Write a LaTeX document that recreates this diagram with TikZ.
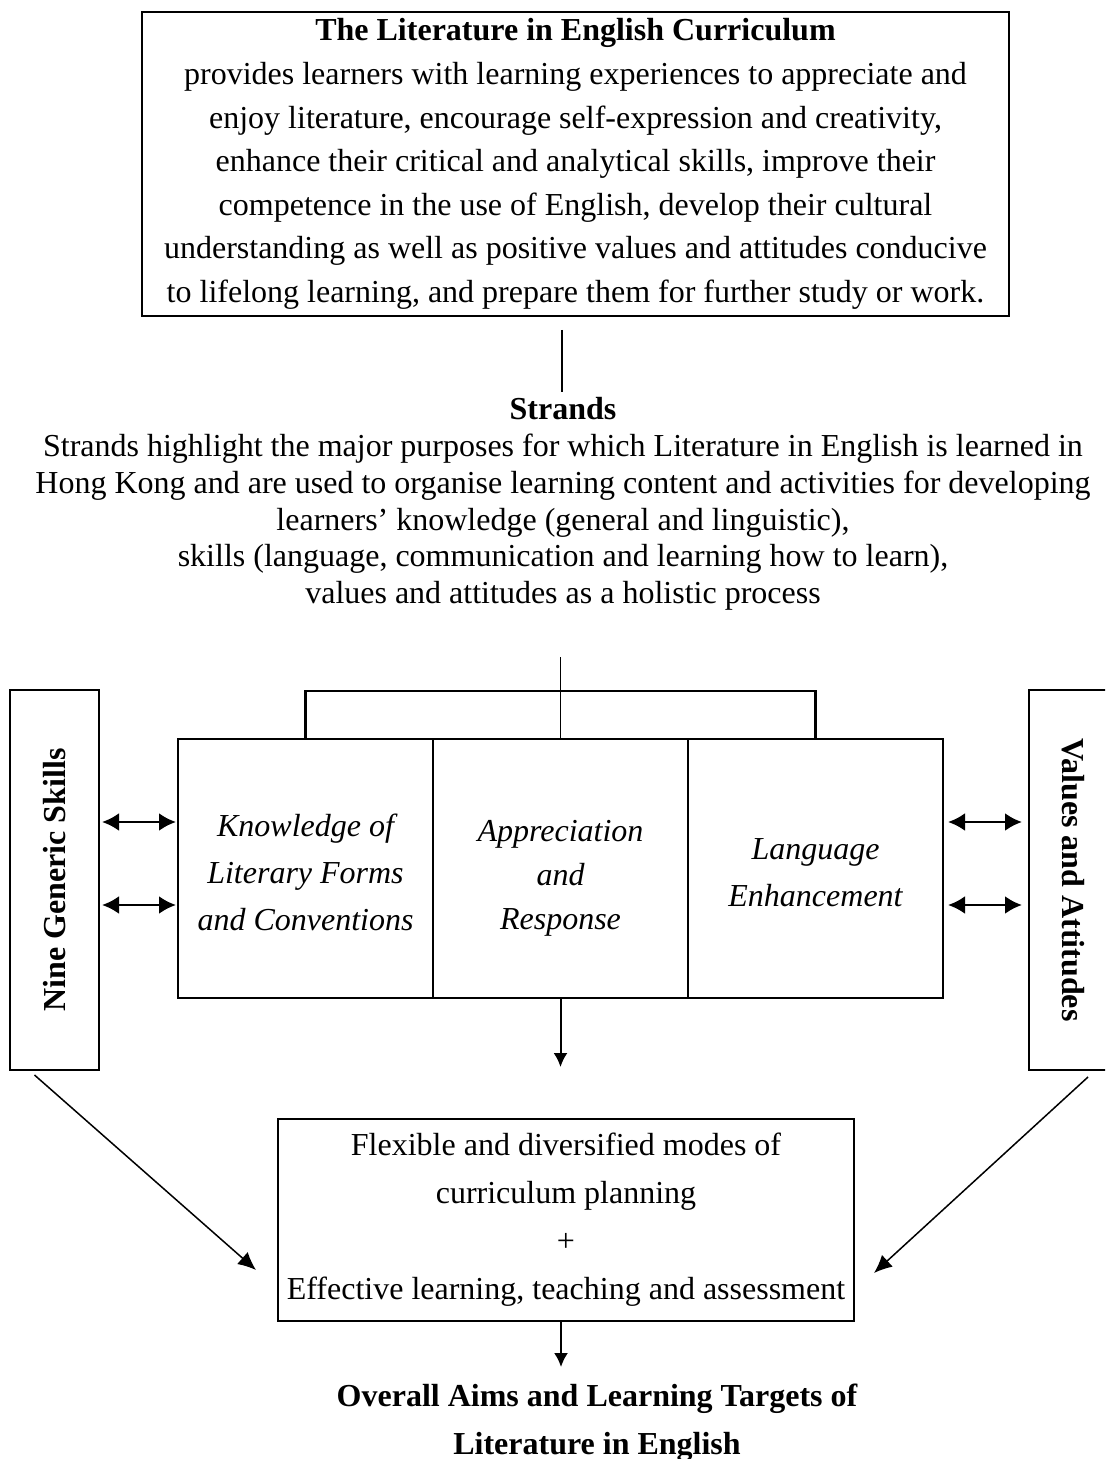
\documentclass[tikz,border=0pt]{standalone}
\usepackage{fontspec}
\setmainfont{Liberation Serif}
\usepackage{graphicx}
\usetikzlibrary{positioning, arrows.meta}

\begin{document}
\begin{tikzpicture}[x=0.5pt, y=-0.5pt,
every node/.style={inner sep=0, outer sep=0, font=\fontsize{16}{18.4}\selectfont},
topbox/.style={draw, line width=0.75pt, align=center, minimum width=433.5pt, minimum height=152pt, font=\fontsize{16}{21.8}\selectfont},
cellbox/.style={draw, line width=1.2pt, align=center, minimum width=127.5pt, minimum height=129.5pt, font=\fontsize{16}{23.5}\selectfont\itshape},
sidebox/.style={draw, line width=0.75pt, minimum width=44.5pt, minimum height=190pt, font=\fontsize{16}{18.4}\selectfont\bfseries},
planbox/.style={draw, line width=0.75pt, align=center, minimum width=288pt, minimum height=101pt, font=\fontsize{16}{24}\selectfont},
link/.style={line width=0.75pt},
dblarrow/.style={line width=1.4pt, {Latex[length=8.5pt,width=9pt]}-{Latex[length=8.5pt,width=9pt]}},
downarrow/.style={line width=1pt, -{Latex[length=7pt,width=7pt]}},
diagarrow/.style={line width=0.75pt, -{Latex[length=9pt,width=8pt]}}]

\clip (0,0) rectangle (1105,1459);
\fill[white] (0,0) rectangle (1105,1459);

\node[topbox] (curr) at (575.5,164) {\textbf{The Literature in English Curriculum}\\
provides learners with learning experiences to appreciate and\\
enjoy literature, encourage self-expression and creativity,\\
enhance their critical and analytical skills, improve their\\
competence in the use of English, develop their cultural\\
understanding as well as positive values and attitudes conducive\\
to lifelong learning, and prepare them for further study or work.};

\node[align=center] (strands) at (563,504) {\textbf{Strands}\\
Strands highlight the major purposes for which Literature in English is learned in\\
Hong Kong and are used to organise learning content and activities for developing\\
learners’ knowledge (general and linguistic),\\
skills (language, communication and learning how to learn),\\
values and attitudes as a holistic process};

\node[cellbox] (know) at (305.5,868.5) {\rule{0pt}{15pt}Knowledge of\\ Literary Forms\\ and Conventions};
\node[cellbox, right=0pt of know, font=\fontsize{16}{22}\selectfont\itshape] (app) {\rule{0pt}{20pt}Appreciation\\ and\\ Response};
\node[cellbox, right=0pt of app] (lang) {\rule{0pt}{15pt}Language\\ Enhancement};

\node[sidebox] (gskills) at (54.5,880) {\rotatebox{90}{Nine Generic Skills}};
\node[sidebox] (values) at (1073.5,880) {\rotatebox{-90}{Values and Attitudes}};

\node[planbox] (plan) at (566,1220) {Flexible and diversified modes of\\ curriculum planning\\ +\\ Effective learning, teaching and assessment};

\node[align=center, font=\fontsize{16}{24}\selectfont\bfseries] (aims) at (597,1423) {Overall Aims and Learning Targets of\\ Literature in English};

\coordinate (c1) at (562,330);
\coordinate (c2) at (562,392);
\coordinate (stem) at (560.5,657);
\coordinate (r1) at (0,822);
\coordinate (r2) at (0,905);
\coordinate (d1) at (560.5,1067);
\coordinate (d2) at (561,1367);

\draw[link] (c1) -- (c2);
\draw[link] (stem) -- (app.north);
\draw[line width=1.2pt] (know.north) -- ++(0,-48) -| (lang.north);

\foreach \r in {r1,r2}{
\draw[dblarrow, shorten <=1.5pt, shorten >=1pt] (gskills.east |- \r) -- (know.west |- \r);
\draw[dblarrow, shorten <=2.5pt, shorten >=3.5pt] (lang.east |- \r) -- (values.west |- \r);
}

\draw[downarrow] (app.south) -- (d1);
\draw[downarrow] (plan.south -| d2) -- (d2);

\draw[diagarrow] ([xshift=-10pt,yshift=-2.5pt]gskills.south) -- ([xshift=-11pt,yshift=-25pt]plan.west);
\draw[diagarrow] ([xshift=7.25pt,yshift=-3.5pt]values.south) -- ([xshift=10pt,yshift=-26.5pt]plan.east);

\end{tikzpicture}
\end{document}
